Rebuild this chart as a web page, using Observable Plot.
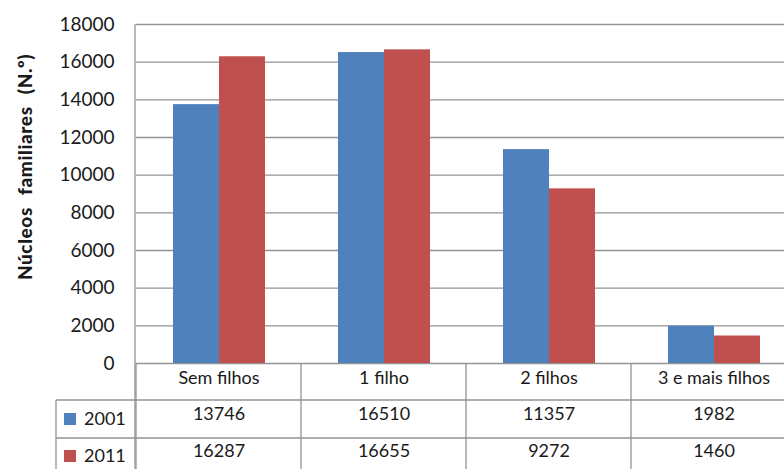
<!DOCTYPE html>
<html><head><meta charset="utf-8">
<script src="https://cdn.jsdelivr.net/npm/d3@7"></script>
<script src="https://cdn.jsdelivr.net/npm/@observablehq/plot@0.6"></script>
<style>
html,body{margin:0;padding:0;overflow:hidden;background:#fff;width:784px;height:469px}
svg{max-width:none !important;display:block}
</style></head><body><div id="chart"></div>
<script>
const categories = ["Sem filhos", "1 filho", "2 filhos", "3 e mais filhos"];
const series = ["2001", "2011"];
const values2001 = [13746, 16510, 11357, 1982];
const values2011 = [16287, 16655, 9272, 1460];
const yTicks = [0, 2000, 4000, 6000, 8000, 10000, 12000, 14000, 16000, 18000];
const colors = ["#4F81BD", "#C0504D"];
const yTitle = "Núcleos familiares (N.º)";

const data = categories.flatMap((c, i) => [
  {cat: c, year: series[0], value: values2001[i]},
  {cat: c, year: series[1], value: values2011[i]}
]);

const W = 797, H = 469;
const ML = 135, MT = 24, MB = 106;
const gridColor = "#939393";
const txt = "#1a1a1a";

const chart = Plot.plot({
  width: W, height: H,
  marginLeft: ML, marginRight: 0, marginTop: MT, marginBottom: MB,
  style: {fontFamily: "Lato, 'Open Sans', sans-serif", fontSize: "18px", color: txt, background: "#fff", maxWidth: "none", overflow: "visible"},
  fx: {domain: categories, padding: 0, axis: null, label: null},
  x: {domain: series, paddingInner: 0, paddingOuter: 0.77, axis: null, label: null},
  y: {domain: [0, 18000], axis: null, label: null},
  color: {domain: series, range: colors},
  marks: [
    Plot.gridY(yTicks, {stroke: gridColor, strokeOpacity: 1, strokeWidth: 1.3}),
    Plot.axisY(yTicks, {tickSize: 0, tickPadding: 22, fontSize: 19, label: null, tickFormat: d => String(d)}),
    Plot.barY(data, {fx: "cat", x: "year", y: "value", fill: "year"}),
    Plot.text(categories, {fx: d => d, text: d => d, frameAnchor: "bottom", dy: 20, fontSize: 18}),
    Plot.text(values2001, {fx: (d, i) => categories[i], text: d => String(d), frameAnchor: "bottom", dy: 56, fontSize: 18}),
    Plot.text(values2011, {fx: (d, i) => categories[i], text: d => String(d), frameAnchor: "bottom", dy: 93, fontSize: 18})
  ]
});

document.getElementById("chart").appendChild(chart);

// table borders, axis line, legend keys and y title
const svg = d3.select(chart);
const fx = chart.scale("fx");
const y0 = H - MB; // zero line
const row1 = y0 + 37, row2 = y0 + 75;
const g = svg.append("g").attr("stroke", gridColor).attr("stroke-width", 1.3).attr("fill", "none");
g.append("line").attr("x1", ML).attr("x2", ML).attr("y1", MT).attr("y2", H);
[row1, row2].forEach(yy => g.append("line").attr("x1", 56).attr("x2", W).attr("y1", yy).attr("y2", yy));
g.append("line").attr("x1", 56).attr("x2", 56).attr("y1", row1).attr("y2", H);
categories.forEach(c => {
  const xx = fx.apply(c);
  g.append("line").attr("x1", xx).attr("x2", xx).attr("y1", y0).attr("y2", H);
});

const legendRows = [row1 + 19, row2 + 18];
series.forEach((s, i) => {
  svg.append("rect").attr("x", 64).attr("y", legendRows[i] - 6).attr("width", 12).attr("height", 12).attr("fill", colors[i]);
  svg.append("text").attr("x", 84).attr("y", legendRows[i]).attr("dy", "0.35em")
    .attr("text-anchor", "start")
    .attr("font-size", 18).attr("fill", txt).text(s);
});

svg.append("text")
  .attr("transform", `translate(32,167) rotate(-90)`)
  .attr("text-anchor", "middle")
  .attr("font-weight", "900").attr("font-size", 19)
  .attr("letter-spacing", "0.6px").attr("word-spacing", "7px")
  .attr("fill", txt)
  .text(yTitle);
</script>
</body></html>
